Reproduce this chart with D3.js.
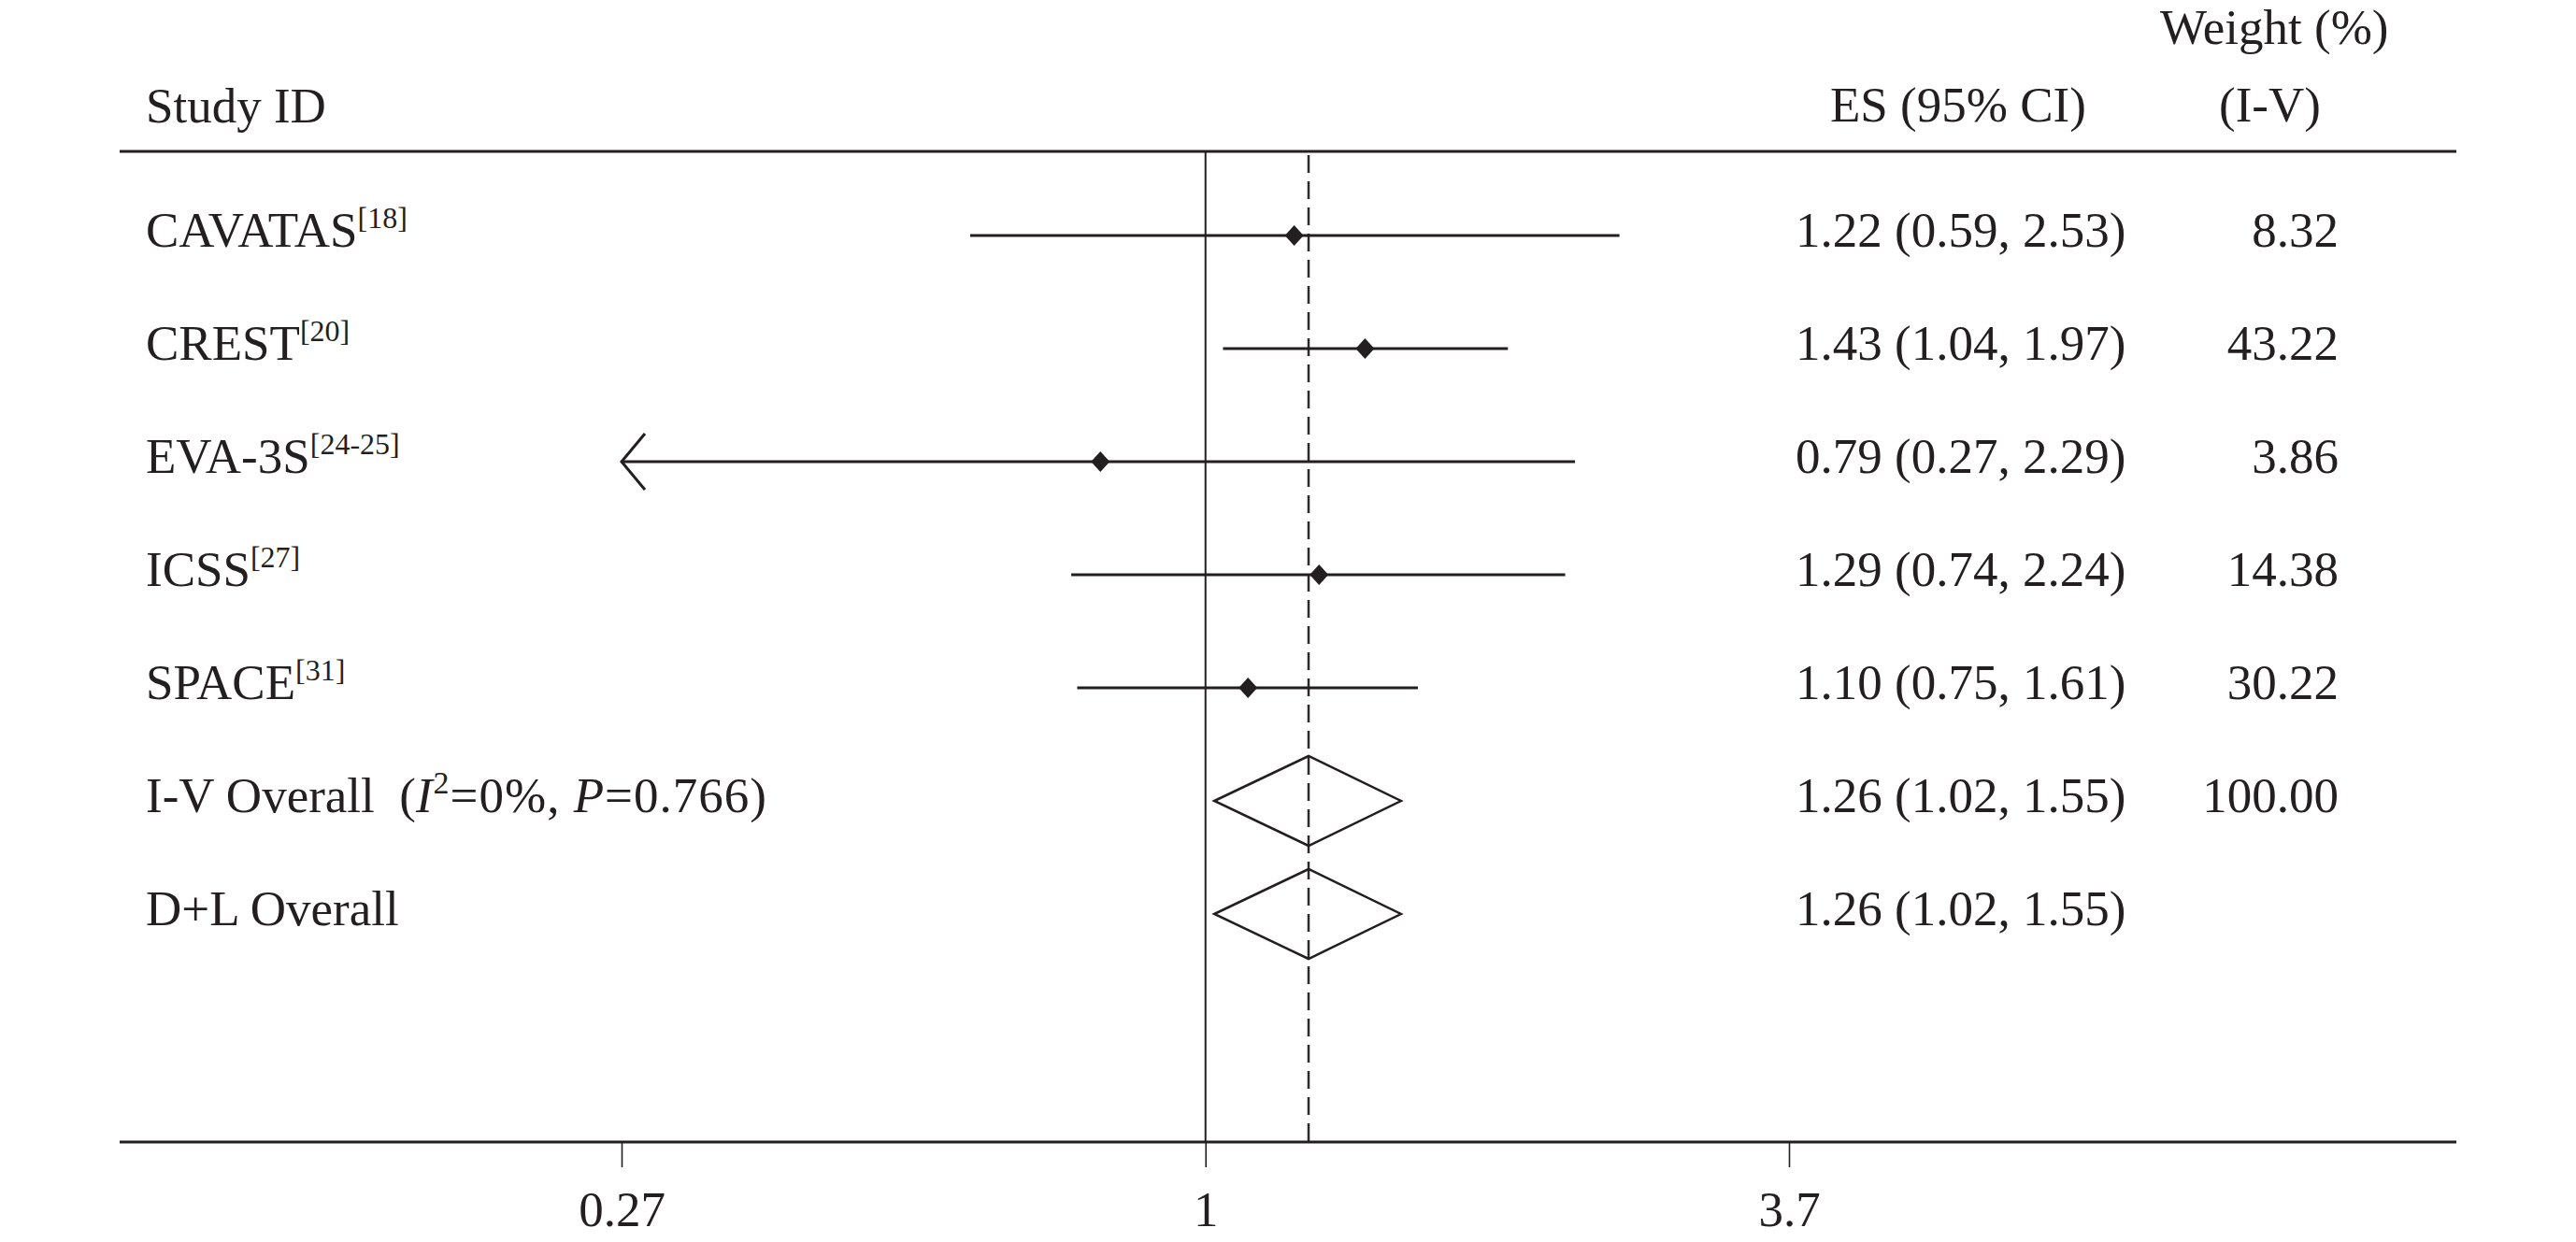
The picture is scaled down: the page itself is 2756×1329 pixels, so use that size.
<!DOCTYPE html>
<html>
<head>
<meta charset="utf-8">
<script src="https://cdn.jsdelivr.net/npm/d3@7"></script>
<style>
  html, body { margin: 0; padding: 0; background: #fff; }
  svg text { font-family: "Liberation Serif", "Times New Roman", serif; fill: #231f20; }
</style>
</head>
<body>
<svg id="chart" width="2756" height="1329"></svg>
<script>
// ---- data ----
const studies = ["CAVATAS", "CREST", "EVA-3S", "ICSS", "SPACE"];
const refs = ["18", "20", "24-25", "27", "31"];
const es = [1.22, 1.43, 0.79, 1.29, 1.10];
const lower = [0.59, 1.04, 0.27, 0.74, 0.75];
const upper = [2.53, 1.97, 2.29, 2.24, 1.61];
const weights = ["8.32", "43.22", "3.86", "14.38", "30.22"];
const overallLabels = ["I-V Overall", "D+L Overall"];
const overallES = [1.26, 1.26];
const overallLower = [1.02, 1.02];
const overallUpper = [1.55, 1.55];
const overallWeights = ["100.00", ""];
const overallHet = { i2: "0%", p: "0.766" };
const tickValues = [0.27, 1, 3.7];
const tickLabels = ["0.27", "1", "3.7"];

// ---- layout ----
const W = 2756, H = 1329;
const leftX = 128, rightX = 2628;
const headerLineY = 162, axisY = 1222;
const labelX = 156, esX = 1921, weightRight = 2502;
const ink = "#231f20";
const fs = 53;

const svg = d3.select("#chart");
const x = d3.scaleLog().domain([0.27, 3.7]).range([665, 1914]);
const y = d3.scaleLinear().domain([0, 6]).range([252, 978]);
const fmt = v => v.toFixed(2);

// header
svg.append("text").attr("x", labelX).attr("y", 131).attr("font-size", fs).text("Study ID");
svg.append("text").attr("x", 1958).attr("y", 130).attr("font-size", fs).text("ES (95% CI)");
svg.append("text").attr("x", 2311).attr("y", 47).attr("font-size", fs).text("Weight (%)");
svg.append("text").attr("x", 2374).attr("y", 130).attr("font-size", fs).text("(I-V)");

// header rule
svg.append("line").attr("x1", leftX).attr("x2", rightX).attr("y1", headerLineY).attr("y2", headerLineY)
  .attr("stroke", ink).attr("stroke-width", 3);

// null line at 1
svg.append("line").attr("x1", x(1)).attr("x2", x(1)).attr("y1", headerLineY).attr("y2", axisY)
  .attr("stroke", ink).attr("stroke-width", 2);

// overall dashed line
svg.append("line").attr("x1", x(overallES[0])).attr("x2", x(overallES[0])).attr("y1", headerLineY + 4).attr("y2", axisY)
  .attr("stroke", "#2a2a2a").attr("stroke-width", 2.5).attr("stroke-dasharray", "19,9");

// axis
const axis = d3.axisBottom(x).tickValues(tickValues).tickFormat((d, i) => tickLabels[i]).tickSize(27).tickPadding(25);
const gAxis = svg.append("g").attr("transform", `translate(0,${axisY})`).call(axis);
gAxis.select(".domain").remove();
gAxis.selectAll(".tick line").attr("stroke", ink).attr("stroke-width", 1.6);
gAxis.selectAll(".tick text").attr("font-size", fs).attr("font-family", "Liberation Serif, serif").attr("fill", ink);
svg.append("line").attr("x1", leftX).attr("x2", rightX).attr("y1", axisY).attr("y2", axisY)
  .attr("stroke", ink).attr("stroke-width", 3);

// study rows
studies.forEach((s, i) => {
  const yy = y(i);
  const t = svg.append("text").attr("x", labelX).attr("y", yy + 12).attr("font-size", fs);
  t.append("tspan").text(s);
  t.append("tspan").attr("font-size", 32).attr("dy", -20).text("[" + refs[i] + "]");

  const clipped = lower[i] <= x.domain()[0];
  svg.append("line").attr("x1", x(Math.max(lower[i], x.domain()[0]))).attr("x2", x(upper[i]))
    .attr("y1", yy).attr("y2", yy).attr("stroke", ink).attr("stroke-width", 3);
  if (clipped) {
    const x0 = x(x.domain()[0]);
    svg.append("path").attr("d", `M${x0 + 25},${yy - 30} L${x0},${yy} L${x0 + 25},${yy + 30}`)
      .attr("fill", "none").attr("stroke", ink).attr("stroke-width", 3);
  }
  const cx = x(es[i]);
  svg.append("path").attr("d", `M${cx - 10},${yy} L${cx},${yy - 11} L${cx + 10},${yy} L${cx},${yy + 11} Z`)
    .attr("fill", ink);

  svg.append("text").attr("x", esX).attr("y", yy + 12).attr("font-size", fs)
    .text(`${fmt(es[i])} (${fmt(lower[i])}, ${fmt(upper[i])})`);
  svg.append("text").attr("x", weightRight).attr("y", yy + 12).attr("font-size", fs)
    .attr("text-anchor", "end").text(weights[i]);
});

// overall rows
overallLabels.forEach((lab, j) => {
  const yy = y(studies.length + j);
  const t = svg.append("text").attr("x", labelX).attr("y", yy + 12).attr("font-size", fs)
    .style("white-space", "pre");
  t.append("tspan").text(lab);
  if (j === 0) {
    t.append("tspan").text("  (");
    const het = t.append("tspan").attr("letter-spacing", 1.0);
    het.append("tspan").attr("font-style", "italic").text("I");
    het.append("tspan").attr("font-size", 34).attr("dy", -20).text("2");
    het.append("tspan").attr("dy", 20).text("=" + overallHet.i2 + ", ");
    het.append("tspan").attr("font-style", "italic").text("P");
    het.append("tspan").text("=" + overallHet.p + ")");
  }
  const lx = x(overallLower[j]), cx = x(overallES[j]), ux = x(overallUpper[j]);
  svg.append("path").attr("d", `M${lx},${yy} L${cx},${yy - 48} L${ux},${yy} L${cx},${yy + 48} Z`)
    .attr("fill", "none").attr("stroke", ink).attr("stroke-width", 2.5);

  svg.append("text").attr("x", esX).attr("y", yy + 12).attr("font-size", fs)
    .text(`${fmt(overallES[j])} (${fmt(overallLower[j])}, ${fmt(overallUpper[j])})`);
  if (overallWeights[j]) {
    svg.append("text").attr("x", weightRight).attr("y", yy + 12).attr("font-size", fs)
      .attr("text-anchor", "end").text(overallWeights[j]);
  }
});
</script>
</body>
</html>
